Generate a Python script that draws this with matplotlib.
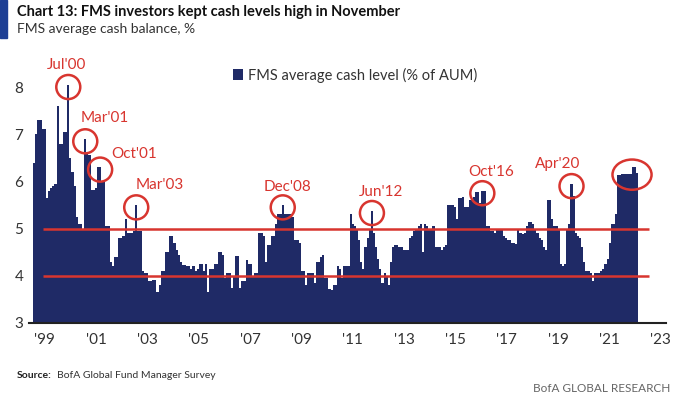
import numpy as np
import pandas as pd
import matplotlib
matplotlib.use('Agg')
import matplotlib.pyplot as plt
from matplotlib.patches import Ellipse, Rectangle

# FMS average cash balance (%), monthly, Mar 1999 - Nov 2022
cash_1999 = [6.4, 7.0, 7.3, 7.3, 7.1, 7.1, 5.65, 5.8, 5.85, 5.9]
cash_2000 = [5.95, 7.6, 6.8, 6.8, 7.05, 7.05, 8.05, 6.5, 6.2, 5.9, 5.25, 5.1]
cash_2001 = [5.1, 5.0, 6.9, 6.6, 6.55, 5.82, 5.82, 5.85, 6.3, 6.3, 6.0, 6.0]
cash_2002 = [5.05, 5.05, 4.3, 4.2, 4.4, 4.4, 4.8, 4.8, 4.85, 5.2, 4.9, 4.9]
cash_2003 = [4.9, 4.95, 5.5, 4.95, 4.95, 4.1, 4.05, 4.05, 3.9, 3.9, 3.92, 3.92]
cash_2004 = [3.65, 3.8, 4.1, 4.1, 4.5, 4.5, 4.85, 4.85, 4.7, 4.55, 4.45, 4.3]
cash_2005 = [4.22, 4.22, 4.2, 4.2, 4.15, 4.2, 4.1, 4.15, 4.25, 4.25, 4.1, 4.25]
cash_2006 = [3.65, 4.15, 4.15, 4.25, 4.25, 4.5, 4.5, 4.45, 3.95, 4.05, 4.05, 3.75]
cash_2007 = [4.0, 4.42, 4.42, 3.75, 3.9, 3.9, 4.34, 4.25, 4.25, 4.0, 4.05, 4.05]
cash_2008 = [4.9, 4.9, 4.85, 4.3, 4.65, 4.65, 4.85, 4.85, 5.1, 5.3, 5.3, 5.5]
cash_2009 = [5.3, 5.3, 5.3, 5.3, 5.25, 4.75, 4.75, 4.7, 4.1, 4.1, 3.8, 4.05]
cash_2010 = [4.05, 4.05, 3.85, 4.3, 4.3, 4.4, 4.45, 3.95, 3.95, 3.72, 3.7, 3.8]
cash_2011 = [3.8, 4.2, 4.15, 3.95, 4.2, 4.2, 4.2, 5.3, 5.1, 5.05, 5.0, 4.75]
cash_2012 = [4.3, 4.15, 4.6, 4.8, 5.0, 5.38, 4.9, 4.6, 4.35, 4.15, 3.85, 4.05]
cash_2013 = [4.0, 3.8, 4.3, 4.6, 4.65, 4.65, 4.6, 4.6, 4.55, 4.55, 4.55, 4.8]
cash_2014 = [4.85, 4.95, 5.0, 5.05, 5.1, 4.5, 5.1, 5.05, 5.0, 5.0, 5.05, 4.6]
cash_2015 = [4.6, 4.6, 4.55, 4.6, 4.65, 5.5, 5.5, 5.5, 5.45, 5.2, 5.65, 5.65]
cash_2016 = [5.68, 5.45, 5.45, 5.6, 5.6, 5.68, 5.78, 5.78, 5.55, 5.8, 5.8, 5.05]
cash_2017 = [5.05, 4.95, 4.95, 4.9, 5.0, 4.98, 4.98, 4.85, 4.8, 4.75, 4.75, 4.7]
cash_2018 = [4.7, 4.68, 5.0, 4.9, 4.88, 4.9, 5.05, 5.14, 5.14, 5.1, 5.0, 4.9]
cash_2019 = [4.8, 4.75, 4.6, 4.55, 5.6, 5.6, 5.2, 5.05, 5.05, 5.0, 4.25, 4.2]
cash_2020 = [4.25, 5.0, 5.1, 5.95, 5.7, 4.9, 4.85, 4.8, 4.6, 4.3, 4.1, 4.1]
cash_2021 = [4.05, 3.9, 4.05, 4.05, 4.05, 4.1, 4.15, 4.25, 4.35, 4.7, 5.1, 5.1]
cash_2022 = [5.3, 6.13, 6.13, 6.15, 6.15, 6.15, 6.15, 6.15, 6.3, 6.3, 6.17]

cash = np.concatenate([cash_1999, cash_2000, cash_2001, cash_2002, cash_2003, cash_2004,
                       cash_2005, cash_2006, cash_2007, cash_2008, cash_2009, cash_2010,
                       cash_2011, cash_2012, cash_2013, cash_2014, cash_2015, cash_2016,
                       cash_2017, cash_2018, cash_2019, cash_2020, cash_2021, cash_2022])
dates = pd.date_range('1999-03-01', '2022-11-01', freq='MS')
idx = np.asarray((dates.year - 1999) * 12 + dates.month - 1)
months = list(dates.strftime('%Y-%m'))

peak_labels = ["Jul'00", "Mar'01", "Oct'01", "Mar'03", "Dec'08", "Jun'12", "Oct'16", "Apr'20"]
peak_dates = ['2000-07', '2001-03', '2001-10', '2003-03', '2008-12', '2012-06', '2016-10', '2020-04']
ref_levels = [5, 4]
year_labels = ["'99", "'01", "'03", "'05", "'07", "'09", "'11", "'13", "'15", "'17", "'19", "'21", "'23"]

navy = '#1f2a66'
red = '#d8352f'
plt.rcParams['font.family'] = ['Lato', 'DejaVu Sans']

fig = plt.figure(figsize=(6.8, 3.96), dpi=100)
ax = fig.add_axes([29/680, 73/396, 637/680, 264.3/396])

ax.bar(idx, cash, width=1.0, color=navy, linewidth=0, label='FMS average cash level (% of AUM)')
ax.hlines(ref_levels, 6, 291.5, color=red, lw=1.8, zorder=3)

lbl_off = [(-1, 16), (14, 16.5), (24.5, 11), (17, 16), (3.5, 15), (6.5, 15), (6, 15), (-10, 16)]
for lab, d, off in zip(peak_labels, peak_dates, lbl_off):
    k = months.index(d)
    cx, cy = idx[k], cash[k] - 0.05
    ax.add_patch(Ellipse((cx, cy), 11.3, 0.51, fill=False, ec=red, lw=1.8, zorder=4))
    ax.annotate(lab, (cx, cy), xytext=off, textcoords='offset points',
                ha='center', va='center', color=red, fontsize=11)
# latest reading
ax.add_patch(Ellipse((idx[-6:].mean(), cash[-6:].mean() - 0.06), 18.4, 0.64,
                     fill=False, ec=red, lw=1.8, zorder=4))

ax.set_xlim(-0.5, 299.5)
ax.set_ylim(3, 8.6)
ax.set_yticks([3, 4, 5, 6, 7, 8])
ax.set_xticks(np.linspace(7.0, 297.0, 13))
ax.set_xticklabels(year_labels)
ax.tick_params(length=0, labelsize=11, labelcolor='#333333')
ax.tick_params(axis='y', pad=4)
ax.tick_params(axis='x', pad=7)
for s in ['top', 'right', 'left']:
    ax.spines[s].set_visible(False)
ax.spines['bottom'].set_color('#222222')
ax.spines['bottom'].set_linewidth(1.5)

ax.legend(loc='center', bbox_to_anchor=(0.512, 0.938), frameon=False, fontsize=10.5,
          handlelength=0.7, handleheight=0.7, handletextpad=0.3, labelcolor='#333333')

fig.patches.append(Rectangle((0, 1 - 38/396), 7/680, 38/396, transform=fig.transFigure,
                             color='#1d3f94'))
fig.text(17/680, 1 - 12/396, 'Chart 13: FMS investors kept cash levels high in November',
         fontsize=10.5, fontweight='bold', va='center', ha='left', color='#111111')
fig.text(17/680, 1 - 29/396, 'FMS average cash balance, %', fontsize=10,
         va='center', ha='left', color='#333333')
fig.text(17/680, 1 - 376/396, 'Source:', fontsize=7.5, fontweight='bold',
         va='center', ha='left', color='#222222')
fig.text(57/680, 1 - 376/396, 'BofA Global Fund Manager Survey', fontsize=7.5,
         va='center', ha='left', color='#333333')
fig.text(670/680, 1 - 389/396, 'BofA GLOBAL RESEARCH', fontsize=8.5,
         va='center', ha='right', color='#666666')

fig.savefig('out.png', dpi=100)
